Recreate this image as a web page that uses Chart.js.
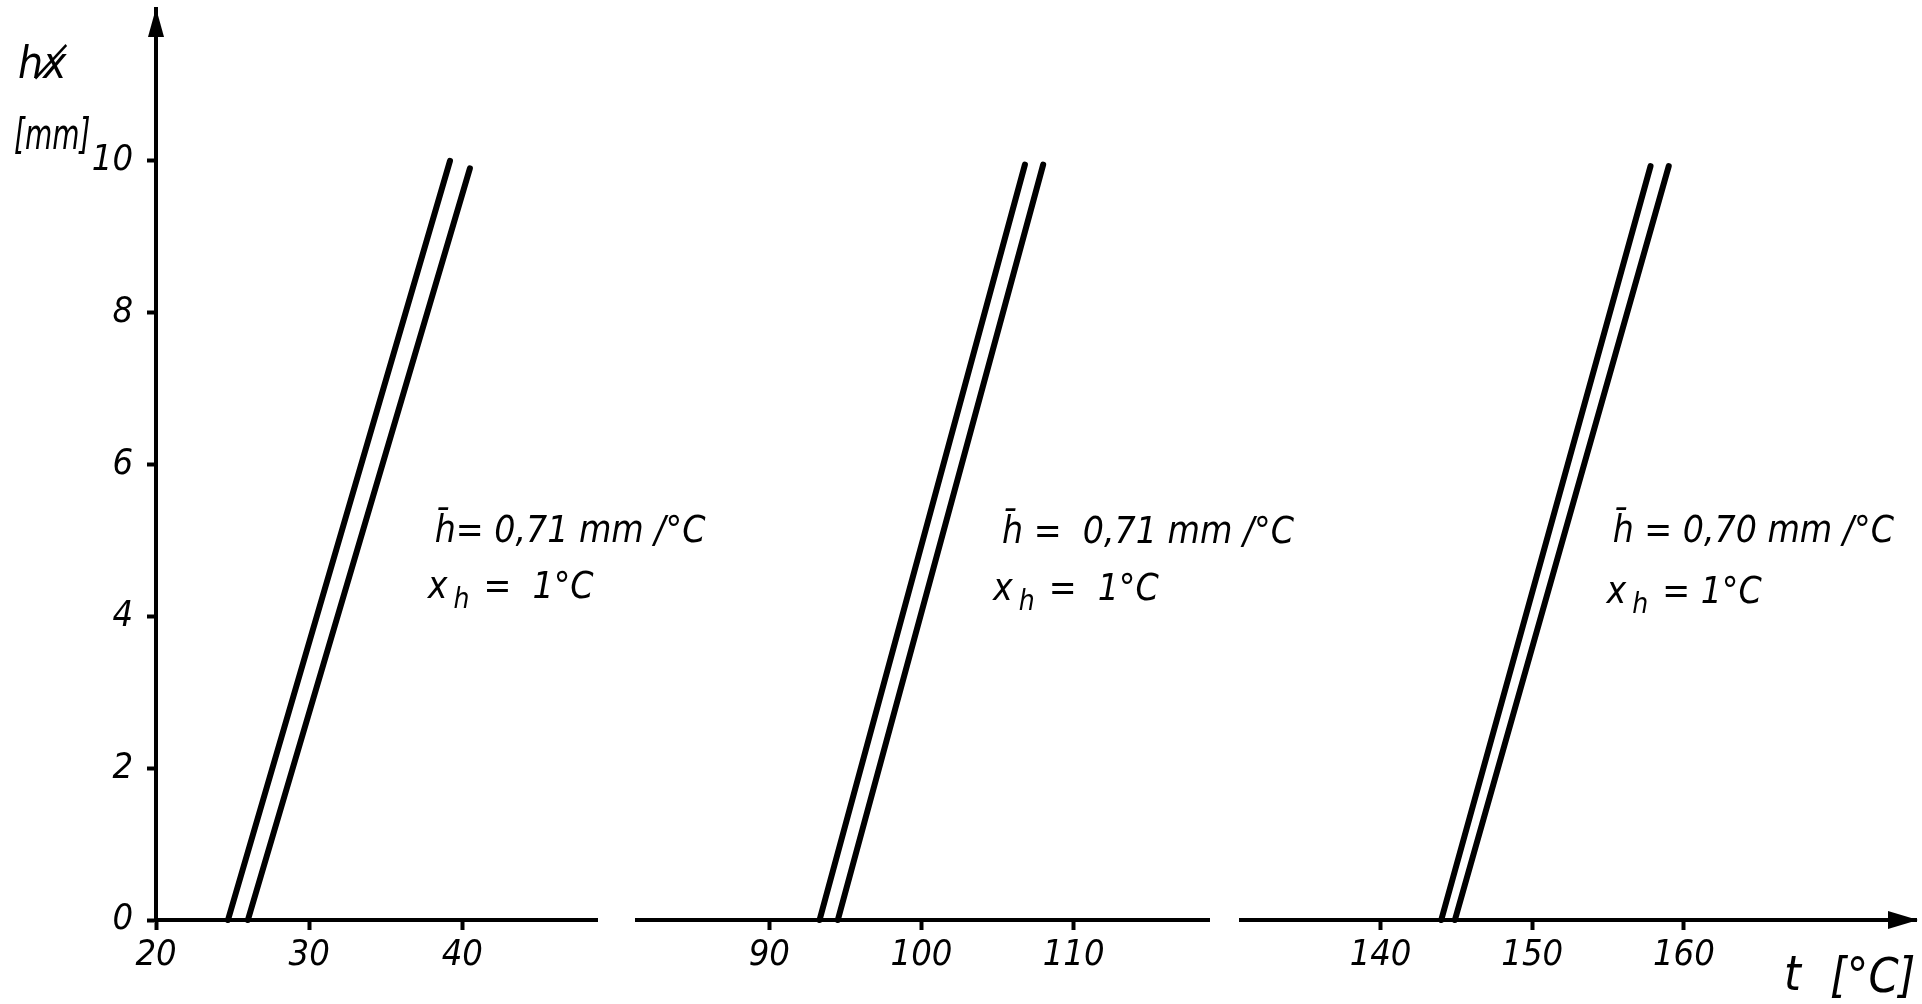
<!DOCTYPE html>
<html lang="de">
<head>
<meta charset="UTF-8" />
<title>h über t</title>
<style>
  body { margin: 0; background: #fff; overflow: hidden; }
  #wrap { position: relative; width: 1922px; height: 1004px; background: #fff; }
  #wrap canvas { position: absolute; left: 0; top: 0; }
</style>
</head>
<body>
<div id="wrap">
  <canvas id="seg1" width="1922" height="1004"></canvas>
  <canvas id="seg2" width="1922" height="1004"></canvas>
  <canvas id="seg3" width="1922" height="1004"></canvas>
</div>

<script src="https://cdn.jsdelivr.net/npm/chart.js"></script>
<script>
  // tick labels of the three pieces of the t axis, and the h axis
  const tTicks1 = [20, 30, 40];
  const tTicks2 = [90, 100, 110];
  const tTicks3 = [140, 150, 160];
  const hTicks = [0, 2, 4, 6, 8, 10];

  // each line: [t, h] at the bottom and at the top
  const line1a = [[24.7, 0], [39.2, 10.0]];
  const line1b = [[26.0, 0], [40.5, 9.9]];
  const line2a = [[93.3, 0], [106.8, 9.95]];
  const line2b = [[94.5, 0], [108.0, 9.95]];
  const line3a = [[144.0, 0], [157.8, 9.93]];
  const line3b = [[144.9, 0], [159.0, 9.93]];

  const slopeTexts = ['h\u0304= 0,71 mm /°C', 'h\u0304 =  0,71 mm /°C', 'h\u0304 = 0,70 mm /°C'];
  const stepTexts = ['=  1°C', '=  1°C', '= 1°C'];

  const hand = "'Liberation Sans Narrow', 'DejaVu Sans Condensed', sans-serif";
  const tickFont = { family: hand, size: 36, style: 'italic' };

  function noPad(s) {
    s.paddingTop = 0; s.paddingBottom = 0; s.paddingLeft = 0; s.paddingRight = 0;
  }

  function notes(c) {
    return {
      id: 'notes',
      afterDatasetsDraw(chart) {
        const ctx = chart.ctx, xs = chart.scales.x, ys = chart.scales.y;
        ctx.save();
        ctx.fillStyle = '#000';
        ctx.textBaseline = 'alphabetic';
        ctx.font = 'italic 37px ' + hand;
        ctx.fillText(c.slope, xs.getPixelForValue(c.at[0]), ys.getPixelForValue(c.at[1]));
        let px = xs.getPixelForValue(c.at[2]);
        const py = ys.getPixelForValue(c.at[3]);
        ctx.fillText('x', px, py);
        px += ctx.measureText('x').width + 6;
        ctx.font = 'italic 28px ' + hand;
        ctx.fillText('h', px, py + 10);
        px += ctx.measureText('h').width + 14;
        ctx.font = 'italic 37px ' + hand;
        ctx.fillText(c.step, px, py);

        const a = chart.chartArea;
        if (c.first) {
          // arrow on the h axis and its name
          ctx.beginPath();
          ctx.moveTo(a.left, a.top - 1);
          ctx.lineTo(a.left - 8, a.top + 28);
          ctx.lineTo(a.left + 8, a.top + 28);
          ctx.closePath();
          ctx.fill();
          ctx.font = 'italic 44px ' + hand;
          ctx.fillText('hx\u0338', 18, 78);
          ctx.save();
          ctx.translate(14, 149);
          ctx.scale(0.74, 1);
          ctx.font = 'italic 42px ' + hand;
          ctx.fillText('[mm]', 0, 0);
          ctx.restore();
        }
        if (c.last) {
          // arrow on the t axis and its name
          ctx.beginPath();
          ctx.moveTo(a.right + 2, a.bottom);
          ctx.lineTo(a.right - 28, a.bottom - 9);
          ctx.lineTo(a.right - 28, a.bottom + 9);
          ctx.closePath();
          ctx.fill();
          ctx.font = 'italic 48px ' + hand;
          ctx.fillText('t', 1784, 990);
          ctx.fillText('[°C]', 1830, 992);
        }
        ctx.restore();
      }
    };
  }

  function makeChart(id, c) {
    return new Chart(document.getElementById(id), {
      type: 'line',
      data: {
        datasets: c.lines.map(l => ({
          data: l.map(([x, y]) => ({ x, y })),
          borderColor: '#000',
          borderWidth: 6,
          borderCapStyle: 'round',
          pointRadius: 0,
          tension: 0,
          clip: false
        }))
      },
      options: {
        responsive: false,
        animation: false,
        devicePixelRatio: 1,
        layout: { padding: { left: c.padLeft, right: c.padRight, top: 9, bottom: 0 } },
        plugins: { legend: { display: false }, tooltip: { enabled: false } },
        scales: {
          x: {
            type: 'linear',
            min: c.min,
            max: c.max,
            afterBuildTicks: s => { s.ticks = c.ticks.map(v => ({ value: v })); },
            afterFit: s => { s.height = 84; noPad(s); },
            border: { color: '#000', width: 4 },
            grid: { drawOnChartArea: false, tickLength: 10, tickWidth: 4, tickColor: '#000' },
            ticks: { color: '#000', font: tickFont, padding: 4, maxRotation: 0, autoSkip: false }
          },
          y: {
            type: 'linear',
            min: 0,
            max: 12,
            display: !!c.first,
            afterBuildTicks: s => { s.ticks = hTicks.map(v => ({ value: v })); },
            afterFit: s => { s.width = c.first ? 156 : 0; noPad(s); },
            border: { color: '#000', width: 4 },
            grid: { drawOnChartArea: false, tickLength: 9, tickWidth: 4, tickColor: '#000' },
            ticks: { color: '#000', font: tickFont, padding: 14 }
          }
        }
      },
      plugins: [notes(c)]
    });
  }

  makeChart('seg1', {
    lines: [line1a, line1b], ticks: tTicks1, min: 20, max: 48.8,
    padLeft: 0, padRight: 1325, first: true,
    slope: slopeTexts[0], step: stepTexts[0], at: [38.2, 4.98, 37.75, 4.24]
  });
  makeChart('seg2', {
    lines: [line2a, line2b], ticks: tTicks2, min: 81.3, max: 118.9,
    padLeft: 637, padRight: 713,
    slope: slopeTexts[1], step: stepTexts[1], at: [105.3, 4.97, 104.7, 4.22]
  });
  makeChart('seg3', {
    lines: [line3a, line3b], ticks: tTicks3, min: 130.8, max: 175.3,
    padLeft: 1241, padRight: 6, last: true,
    slope: slopeTexts[2], step: stepTexts[2], at: [155.3, 4.98, 154.9, 4.18]
  });
</script>
</body>
</html>
